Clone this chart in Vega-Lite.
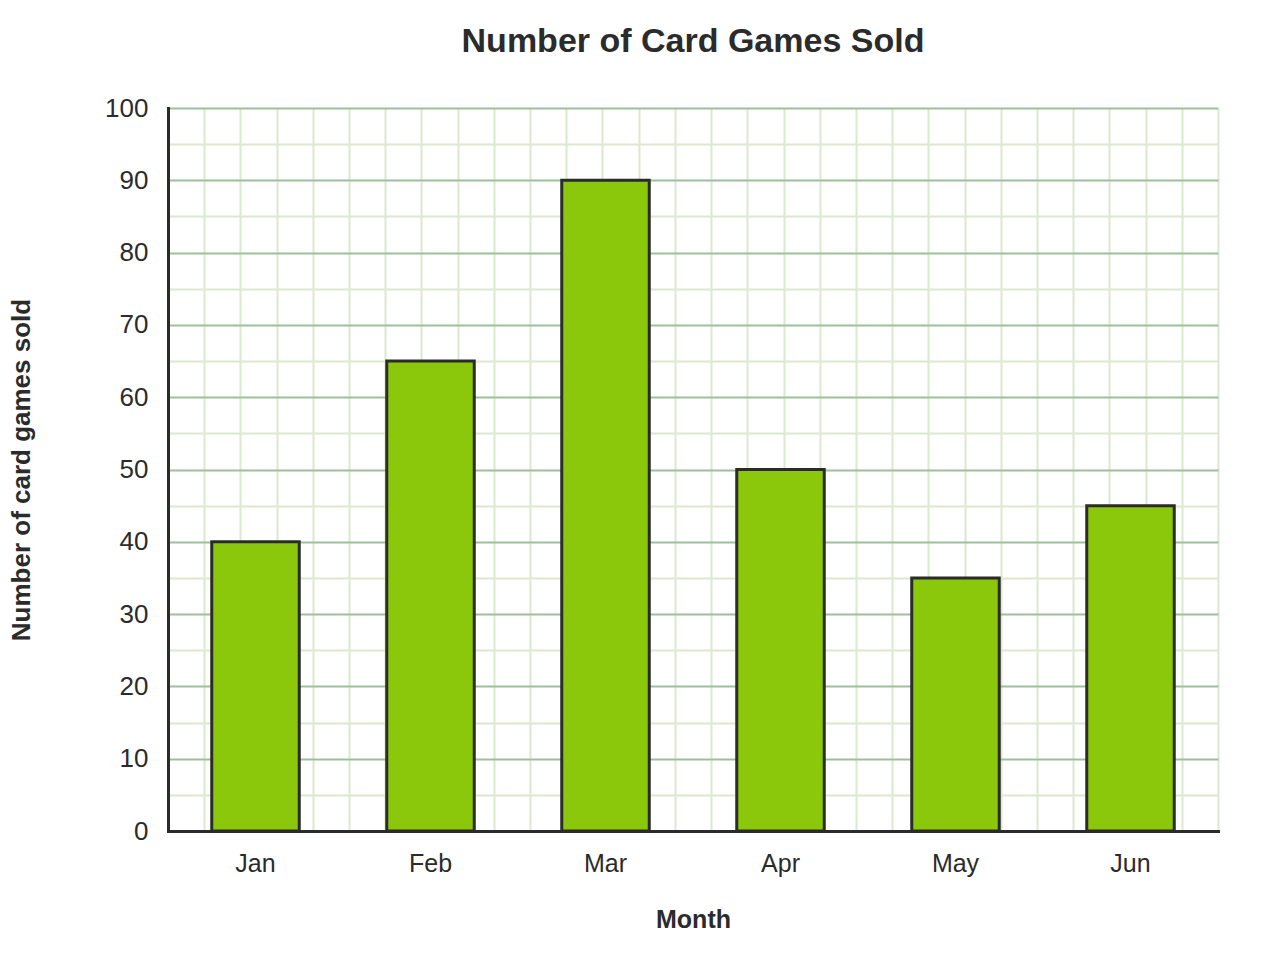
{
  "$schema": "https://vega.github.io/schema/vega-lite/v6.json",
  "width": 1050,
  "height": 723,
  "autosize": {"type": "none"},
  "padding": {"left": 168, "top": 108, "right": 62, "bottom": 149},
  "title": {
    "text": "Number of Card Games Sold",
    "font": "Liberation Sans",
    "fontSize": 34,
    "fontWeight": "bold",
    "color": "#2b2b2b",
    "anchor": "middle",
    "offset": 36
  },
  "data": {
    "values": [
      {"month": "Jan", "sold": 40},
      {"month": "Feb", "sold": 65},
      {"month": "Mar", "sold": 90},
      {"month": "Apr", "sold": 50},
      {"month": "May", "sold": 35},
      {"month": "Jun", "sold": 45}
    ]
  },
  "layer": [
    {
      "mark": {"type": "point", "opacity": 0},
      "encoding": {
        "x": {
          "datum": 0,
          "type": "quantitative",
          "scale": {"domain": [0, 29], "nice": false, "zero": false},
          "axis": {
            "orient": "top",
            "values": [0, 1, 2, 3, 4, 5, 6, 7, 8, 9, 10, 11, 12, 13, 14, 15, 16, 17, 18, 19, 20, 21, 22, 23, 24, 25, 26, 27, 28, 29],
            "grid": true,
            "gridColor": "#dce9cf",
            "gridWidth": 2,
            "labels": false,
            "ticks": false,
            "domain": false,
            "title": null
          }
        },
        "y": {
          "datum": 0,
          "type": "quantitative",
          "scale": {"domain": [0, 100], "nice": false},
          "axis": {
            "orient": "right",
            "values": [5, 15, 25, 35, 45, 55, 65, 75, 85, 95],
            "grid": true,
            "gridColor": "#dce9cf",
            "gridWidth": 2,
            "labels": false,
            "ticks": false,
            "domain": false,
            "title": null
          }
        }
      }
    },
    {
      "mark": {"type": "bar", "fill": "#8bc70a", "stroke": "#2b2b2b", "strokeWidth": 3},
      "encoding": {
        "x": {
          "field": "month",
          "type": "nominal",
          "sort": null,
          "scale": {"paddingInner": 0.5, "paddingOuter": 0.25},
          "axis": {
            "title": "Month",
            "labelAngle": 0,
            "ticks": false,
            "labelPadding": 20,
            "labelFont": "Liberation Sans",
            "labelFontSize": 25,
            "labelColor": "#2b2b2b",
            "domainColor": "#2b2b2b",
            "domainWidth": 3,
            "domainCap": "square",
            "titleFont": "Liberation Sans",
            "titleFontSize": 25,
            "titleFontWeight": "bold",
            "titleColor": "#2b2b2b",
            "titlePadding": 31
          }
        },
        "y": {
          "field": "sold",
          "type": "quantitative",
          "scale": {"domain": [0, 100], "nice": false},
          "axis": {
            "title": "Number of card games sold",
            "values": [0, 10, 20, 30, 40, 50, 60, 70, 80, 90, 100],
            "grid": true,
            "gridColor": "#9fbf9b",
            "gridWidth": 2,
            "ticks": false,
            "labelPadding": 20,
            "labelFont": "Liberation Sans",
            "labelFontSize": 26,
            "labelColor": "#2b2b2b",
            "domainColor": "#2b2b2b",
            "domainWidth": 3,
            "domainCap": "square",
            "titleFont": "Liberation Sans",
            "titleFontSize": 26,
            "titleFontWeight": "bold",
            "titleColor": "#2b2b2b",
            "titlePadding": 70
          }
        }
      }
    }
  ],
  "resolve": {"scale": {"x": "independent", "y": "independent"}},
  "config": {"view": {"stroke": null}}
}
